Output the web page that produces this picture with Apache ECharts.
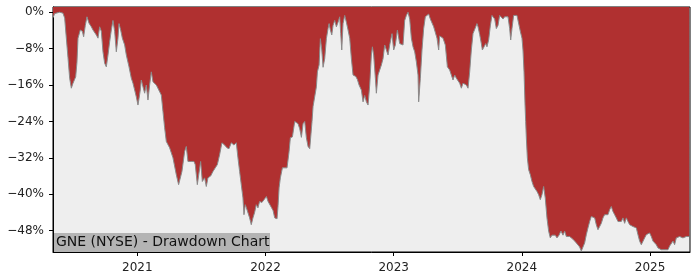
<!DOCTYPE html>
<html>
<head>
<meta charset="utf-8">
<script src="https://cdn.jsdelivr.net/npm/echarts@6/dist/echarts.min.js"></script>
<style>
html,body{margin:0;padding:0;background:#fff;}
#chart{width:700px;height:280px;}
</style>
</head>
<body>
<div id="chart"></div>
<script>
// Time in decimal years, drawdown in percent
const dates = [
2020.342,2020.355,2020.368,2020.394,2020.420,2020.433,2020.446,2020.459,2020.472,2020.485,2020.498,2020.519,2020.529,2020.537,2020.555,2020.571,2020.581,2020.594,2020.607,2020.623,2020.641,2020.654,2020.667,2020.680,2020.693,2020.706,2020.719,2020.732,2020.745,2020.758,2020.771,2020.784,2020.797,2020.810,2020.823,2020.836,2020.849,2020.857,2020.870,2020.883,2020.901,2020.914,2020.935,2020.953,2020.966,2020.979,2020.992,2021.005,2021.013,2021.023,2021.031,2021.044,2021.057,2021.070,2021.083,2021.096,2021.109,2021.122,2021.135,2021.148,
2021.161,2021.187,2021.200,2021.213,2021.226,2021.252,2021.278,2021.304,2021.322,2021.335,2021.348,2021.369,2021.382,2021.395,2021.408,2021.421,2021.442,2021.452,2021.468,2021.478,2021.494,2021.507,2021.525,2021.538,2021.551,2021.572,2021.590,2021.608,2021.624,2021.642,2021.660,2021.681,2021.699,2021.715,2021.733,2021.754,2021.772,2021.785,2021.798,2021.811,2021.824,2021.832,2021.842,2021.850,2021.863,2021.876,2021.889,2021.902,2021.915,2021.928,2021.941,2021.954,2021.972,
2021.981,2021.994,2022.007,2022.020,2022.033,2022.046,2022.059,2022.072,2022.090,2022.098,2022.106,2022.116,2022.132,2022.150,2022.168,2022.184,2022.194,2022.210,2022.228,2022.241,2022.254,2022.267,2022.280,2022.293,2022.306,2022.319,2022.332,2022.345,2022.353,2022.363,2022.371,2022.384,2022.397,2022.405,2022.418,2022.428,2022.439,2022.449,2022.462,2022.475,2022.488,2022.496,2022.506,2022.517,2022.527,2022.540,2022.553,2022.566,2022.579,2022.587,2022.595,2022.605,2022.618,2022.631,2022.644,2022.657,2022.670,2022.683,2022.704,2022.717,2022.730,2022.748,2022.761,2022.774,2022.787,
2022.800,2022.813,2022.826,2022.834,2022.844,2022.857,2022.865,2022.878,2022.891,2022.904,2022.917,2022.930,2022.943,2022.956,2022.969,2022.987,2023.000,2023.013,2023.029,2023.039,2023.047,2023.060,2023.073,2023.086,2023.099,2023.112,2023.125,2023.138,2023.151,2023.164,2023.177,2023.190,2023.195,2023.208,2023.221,2023.234,2023.247,2023.260,2023.273,2023.286,2023.299,2023.312,2023.325,2023.338,2023.351,2023.359,2023.372,2023.385,2023.403,2023.419,2023.437,2023.450,2023.463,2023.476,2023.489,2023.502,2023.515,2023.528,2023.541,2023.554,2023.567,2023.580,2023.593,2023.606,
2023.619,2023.632,2023.650,2023.658,2023.671,2023.684,2023.692,2023.705,2023.718,2023.728,2023.741,2023.754,2023.767,2023.780,2023.788,2023.801,2023.814,2023.827,2023.840,2023.853,2023.866,2023.879,2023.892,2023.905,2023.913,2023.923,2023.936,2023.949,2023.962,2023.975,2023.988,2024.001,2024.009,2024.017,2024.025,2024.030,2024.035,2024.043,2024.053,2024.066,2024.079,2024.092,2024.105,2024.118,2024.131,2024.144,2024.157,2024.170,2024.183,2024.196,2024.209,2024.222,2024.235,2024.248,2024.261,2024.274,2024.290,2024.305,2024.321,2024.334,2024.347,2024.360,2024.373,2024.386,2024.399,2024.412,2024.425,
2024.438,2024.451,2024.464,2024.477,2024.490,2024.503,2024.516,2024.529,2024.542,2024.555,2024.568,2024.581,2024.594,2024.607,2024.620,2024.633,2024.646,2024.659,2024.672,2024.685,2024.698,2024.711,2024.724,2024.737,2024.750,2024.763,2024.776,2024.789,2024.802,2024.815,2024.828,2024.841,2024.854,2024.867,2024.880,2024.893,2024.906,2024.919,2024.932,2024.945,2024.958,2024.971,2024.984,2024.997,2025.010,2025.023,2025.036,2025.049,2025.062,2025.075,2025.088,2025.101,2025.114,2025.127,2025.140,2025.153,2025.166,2025.179,2025.192,2025.205,2025.218,2025.231,2025.244,2025.257,2025.270,2025.283,2025.296,2025.306
];
const drawdown = [
-1.2,-0.3,0,0,-0.2,-1.3,-5.7,-10,-14.5,-16.7,-15.6,-14.2,-11,-5.7,-3.9,-4.2,-5.4,-2.9,-1,-2.4,-3.2,-3.9,-3.6,-5,-5.7,-3.2,-4.2,-8.7,-11.2,-12,-9.4,-6.5,-3.9,-1.8,-4.2,-8.7,-5.7,-2.5,-3.9,-5.7,-7.2,-9.4,-12,-14.5,-15.6,-17.1,-18.6,-20.4,-19,-17.1,-14.9,-16.4,-17.8,-16,-19.3,-16,-13.1,-15.3,-14.9,-16,
-16,-18.2,-21.8,-25.4,-28.4,-29.8,-32,-35.7,-37.9,-38.3,-35,-30.6,-29.5,-32.8,-33.2,-32.8,-32.8,-33.5,-37.9,-38.3,-32.8,-37.2,-36.4,-38.3,-36.4,-36,-35,-34.2,-33.5,-31.3,-28.7,-29.2,-29.8,-30,-28.7,-29.2,-28.7,-32,-35,-37.9,-40.8,-44.5,-42.3,-42.9,-42.6,-45.2,-46.7,-45.2,-44,-42.3,-43,-41.6,-41.8,
-41.8,-41,-40.5,-41.6,-41.8,-42.9,-43.6,-45.2,-45.4,-42.5,-38.6,-36.4,-34.2,-34.2,-34.2,-30.6,-27.6,-27.4,-24,-24.3,-24.5,-25.6,-27.5,-24.5,-24,-27.6,-29.5,-30,-29.7,-24,-20.7,-20.4,-16.4,-13.1,-11.6,-5.8,-8.3,-12.1,-10.2,-5.8,-3.6,-2.5,-3.9,-5,-2.9,-1.8,-3.2,-2.2,-1,-4.7,-8.3,-2.5,-0.7,-2.2,-3.9,-5.7,-10.2,-13.8,-14.1,-14.8,-16,-17.1,-19.7,-18.3,-19.7,
-20.4,-16,-9.4,-7.6,-9.4,-14.5,-17.8,-13.8,-12.7,-11.6,-10.2,-7.2,-8.3,-9.4,-7.2,-4.7,-8.3,-7.2,-3.9,-3.6,-6.9,-7.2,-7.2,-1.8,-0.7,0,-1.5,-5.7,-7.6,-8.7,-10.9,-13.8,-19.7,-14.5,-8.3,-3.6,-1,-0.7,-0.4,-1.5,-1.8,-3.2,-3.6,-5.7,-8.3,-5.2,-5,-5.7,-7.2,-12,-12.7,-13.1,-14.9,-13.8,-14.5,-14.1,-15.6,-16.7,-15.6,-15.3,-16,-16.7,-13.1,-8.3,
-4.7,-4.4,-2.5,-3.2,-4.9,-6.9,-8.3,-7.6,-6.9,-7.6,-6.1,-3,-0.7,-0.4,-1.5,-3.6,-2.9,-0.7,-1,-1.5,-1,-1.2,-1,-3.6,-6.1,-3.6,-0.7,-0.7,-0.7,-1,-4.2,-5.7,-8.3,-13.1,-20.4,-24,-27.6,-32,-34.6,-35.7,-37.2,-38.3,-38.6,-39.4,-40.1,-41.2,-40.1,-38.3,-40.9,-45.2,-48.1,-49.6,-49,-49.4,-49,-49.6,-49,-48.1,-49,-48.1,-49.3,-49.6,-49.3,-49.6,-49.9,-50.3,-50.7,
-51.1,-51.6,-52.5,-52.2,-50.7,-48.9,-47.4,-46,-44.9,-44.5,-45.2,-46.7,-47.8,-47.1,-46.4,-45.2,-44.5,-44.1,-44.5,-43.4,-42.7,-43.8,-44.5,-45.2,-46,-45.6,-46,-45.2,-46.4,-45.2,-46,-46.7,-46.4,-47.1,-46.7,-47.4,-48.9,-50.3,-51.1,-50.7,-49.6,-48.9,-49.3,-48.5,-49.3,-50.3,-50.7,-51.1,-51.8,-51.4,-52.2,-51.8,-52.2,-51.8,-52.2,-51.4,-51.1,-50.3,-51.1,-49.6,-50,-49.3,-48.9,-49.6,-49.6,-49.3,-49.3,-49.3
];
const yTicks = [0, -8, -16, -24, -32, -40, -48];
const xTicks = [2021, 2022, 2023, 2024, 2025];
const titleText = 'GNE (NYSE) - Drawdown Chart';

const seriesData = dates.map((d, i) => [d, drawdown[i]]);
const chart = echarts.init(document.getElementById('chart'), null, {renderer: 'canvas'});
const font = 'DejaVu Sans';
chart.setOption({
  animation: false,
  backgroundColor: '#ffffff',
  grid: {
    left: 53, right: 10, top: 7, bottom: 28,
    show: true, backgroundColor: '#eeeeee', borderColor: '#000', borderWidth: 1
  },
  xAxis: {
    type: 'value', min: 2020.342, max: 2025.312,
    splitLine: {show: false},
    axisLine: {show: true, onZero: false, lineStyle: {color: '#000', width: 1}},
    axisTick: {show: true, length: 4, lineStyle: {color: '#000'}, customValues: xTicks},
    axisLabel: {customValues: xTicks, color: '#222', fontFamily: font, fontSize: 12, margin: 10,
      formatter: v => String(Math.round(v))}
  },
  yAxis: {
    type: 'value', min: -52.7, max: 1.15,
    splitLine: {show: false},
    axisLine: {show: true, onZero: false, lineStyle: {color: '#000', width: 1}},
    axisTick: {show: true, length: 4, lineStyle: {color: '#000'}, customValues: yTicks},
    axisLabel: {customValues: yTicks, color: '#222', fontFamily: font, fontSize: 12, margin: 9,
      formatter: v => (v < 0 ? '\u2212' + Math.abs(Math.round(v)) : String(Math.round(v))) + '%'}
  },
  series: [{
    type: 'line',
    data: seriesData,
    showSymbol: false,
    symbol: 'none',
    sampling: 'none',
    lineStyle: {color: '#8a8a8a', width: 1},
    areaStyle: {color: '#b03030', opacity: 1, origin: 'end'},
    z: 2
  }],
  graphic: [{
    type: 'group', left: 53, top: 233, z: 100,
    children: [
      {type: 'rect', shape: {x: 0, y: 0, width: 217, height: 19}, style: {fill: '#b4b4b4'}},
      {type: 'text', x: 3, y: 9.5, style: {text: titleText, fill: '#111', font: '14px "DejaVu Sans"', verticalAlign: 'middle', textAlign: 'left'}}
    ]
  }]
});
</script>
</body>
</html>
